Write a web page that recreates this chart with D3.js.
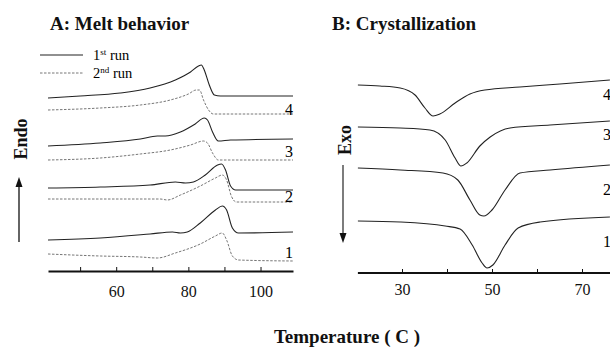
<!DOCTYPE html>
<html>
<head>
<meta charset="utf-8">
<script src="https://cdn.jsdelivr.net/npm/d3@7"></script>
<style>
  body { margin: 0; background: #fff; }
  svg { display: block; font-family: "Liberation Serif", "DejaVu Serif", serif; }
  .curve { fill: none; stroke: #222; stroke-width: 1.1; }
  .curve.second { stroke: #666; stroke-width: 0.9; stroke-dasharray: 2.5,1.5; }
  .axis path { stroke: #111; stroke-width: 1.8; }
  .axis line { stroke: #111; stroke-width: 1; }
  .axis text { font-family: "Liberation Serif", serif; fill: #111; }
  .title { font-weight: bold; fill: #111; }
</style>
</head>
<body>
<div id="chart"></div>
<script>
var svgWidth = 610;
var svgHeight = 349;

// ---- DATA (temperature in C, signal in arbitrary units) ----
// A: melt behavior, 1st run (solid) and 2nd run (dashed), samples 1..4
var meltT_4a = [41.1, 50, 61.1, 69.4, 76.4, 80.6, 82.8, 83.6, 84.4, 85.8, 87.2, 88.9, 109];
var melt_4a  = [18.2, 18.4, 18.7, 19.2, 20.0, 20.8, 21.4, 21.5, 21.0, 19.5, 18.5, 18.4, 18.4];
var meltT_4b = [41.1, 55.6, 66.7, 75, 80, 82.2, 83.1, 84.2, 85.6, 86.9, 109];
var melt_4b  = [17.0, 17.2, 17.5, 18.0, 18.6, 19.0, 19.0, 18.0, 17.0, 16.6, 16.6];

var meltT_3a = [41.1, 55.6, 66.7, 71.4, 73.6, 77.8, 81.9, 84.4, 85.3, 86.7, 88.3, 91.7, 109];
var melt_3a  = [13.4, 13.7, 14.1, 14.4, 14.4, 14.8, 15.6, 16.2, 16.0, 14.8, 13.9, 14.0, 14.1];
var meltT_3b = [41.1, 55.6, 66.7, 75, 80.6, 84.2, 85.3, 86.7, 88.3, 109];
var melt_3b  = [12.0, 12.2, 12.6, 13.0, 13.5, 13.9, 13.7, 12.7, 12.0, 12.0];

var meltT_2a = [41.1, 55.6, 69.4, 76.4, 79.2, 81.4, 84.7, 88.1, 89.2, 90.3, 91.7, 93.1, 109];
var melt_2a  = [9.2, 9.3, 9.5, 9.8, 9.7, 9.8, 10.5, 11.5, 11.6, 11.0, 9.4, 9.0, 9.0];
var meltT_2b = [41.1, 61.1, 72.2, 74.2, 77.8, 83.3, 87.5, 89.4, 90.6, 91.9, 93.3, 109];
var melt_2b  = [8.1, 8.1, 8.1, 8.0, 8.5, 9.4, 10.2, 10.5, 10.0, 8.4, 7.8, 7.8];

var meltT_1a = [41.1, 55.6, 69.4, 75.6, 77.8, 79.7, 83.3, 87.5, 89.4, 90.6, 92.2, 93.9, 109];
var melt_1a  = [4.0, 4.2, 4.6, 4.8, 4.7, 4.8, 5.7, 7.0, 7.4, 7.0, 5.2, 4.7, 4.8];
var meltT_1b = [41.1, 55.6, 66.7, 71.4, 76.4, 83.3, 87.5, 89.4, 90.6, 92.2, 93.9, 109];
var melt_1b  = [2.6, 2.4, 2.3, 2.2, 2.7, 3.6, 4.4, 4.7, 4.0, 2.4, 2.0, 1.9];

// B: crystallization, samples 1..4
var crysT_4 = [20.2, 25.1, 29.6, 32.9, 35.1, 36.9, 38.4, 41.8, 45.1, 48.4, 56.2, 65.1, 76.2];
var crys_4  = [19.5, 19.4, 19.2, 18.5, 17.2, 16.4, 16.6, 17.7, 18.6, 19.0, 19.3, 19.6, 20.0];
var crysT_3 = [20.2, 29.6, 36.2, 39.6, 41.8, 43.1, 44.4, 47.3, 49.6, 54, 62.9, 76.2];
var crys_3  = [15.3, 15.2, 15.0, 14.0, 12.2, 11.4, 11.7, 13.4, 14.3, 15.2, 15.5, 15.9];
var crysT_2 = [20.2, 29.6, 39.1, 42.4, 45.1, 47.3, 48.2, 50, 52.9, 56.2, 62.9, 76.2];
var crys_2  = [11.2, 11.0, 10.7, 10.0, 8.0, 6.5, 6.4, 7.0, 9.0, 10.7, 11.0, 11.5];
var crysT_1 = [20.2, 29.6, 39.6, 42.9, 45.6, 47.8, 48.9, 50.2, 52.9, 55.8, 60.7, 76.2];
var crys_1  = [5.9, 5.8, 5.4, 5.1, 3.5, 1.7, 1.2, 1.5, 3.5, 5.2, 5.8, 6.3];

var curveLabels = ["1", "2", "3", "4"];
var labelLevelA = [2.2, 7.8, 12.3, 16.5];
var labelLevelB = [3.3, 8.5, 14.0, 18.0];

var ticksA = [50, 60, 70, 80, 90, 100];
var tickLabelsA = [60, 80, 100];
var ticksB = [30, 40, 50, 60, 70];
var tickLabelsB = [30, 50, 70];

function zip(xs, ys) {
    return xs.map(function(x, i) { return { t: x, v: ys[i] }; });
}

var svg = d3.select("#chart")
    .append("svg")
    .attr("width", svgWidth)
    .attr("height", svgHeight);

// shared vertical scale (a.u.)
var yScale = d3.scaleLinear().domain([0, 23]).range([280, 50]);

// ---------------- Panel A ----------------
var xA = d3.scaleLinear().domain([41.1, 109]).range([48, 293]);
var lineA = d3.line()
    .x(d => xA(d.t))
    .y(d => yScale(d.v))
    .curve(d3.curveMonotoneX);

var gA = svg.append("g");

var meltSeries = [
    { d: zip(meltT_4a, melt_4a), second: false },
    { d: zip(meltT_4b, melt_4b), second: true },
    { d: zip(meltT_3a, melt_3a), second: false },
    { d: zip(meltT_3b, melt_3b), second: true },
    { d: zip(meltT_2a, melt_2a), second: false },
    { d: zip(meltT_2b, melt_2b), second: true },
    { d: zip(meltT_1a, melt_1a), second: false },
    { d: zip(meltT_1b, melt_1b), second: true }
];

gA.selectAll("path.curve")
    .data(meltSeries)
    .enter()
    .append("path")
    .attr("class", d => d.second ? "curve second" : "curve")
    .attr("d", d => lineA(d.d));

gA.selectAll("text.num")
    .data(curveLabels)
    .enter()
    .append("text")
    .attr("class", "num")
    .attr("x", 289)
    .attr("y", (d, i) => yScale(labelLevelA[i]))
    .attr("text-anchor", "middle")
    .attr("font-size", 16)
    .text(d => d);

// axis ticks + labels
gA.append("g")
    .attr("class", "axis")
    .attr("transform", "translate(0, 271)")
    .call(d3.axisBottom(xA).tickValues(ticksA).tickSize(-4).tickSizeOuter(0).tickFormat(""));
gA.append("g")
    .attr("class", "axis labels")
    .attr("transform", "translate(0, 271)")
    .call(d3.axisBottom(xA).tickValues(tickLabelsA).tickSize(0).tickPadding(15))
    .attr("font-family", "Liberation Serif")
    .attr("font-size", 16)
    .call(g => g.select(".domain").remove());

gA.append("text")
    .attr("class", "title")
    .attr("x", 50)
    .attr("y", 30)
    .attr("font-size", 19)
    .text("A: Melt behavior");

// legend
gA.append("line").attr("class", "curve").attr("x1", 40).attr("x2", 83).attr("y1", 55).attr("y2", 55);
gA.append("line").attr("class", "curve second").attr("x1", 40).attr("x2", 83).attr("y1", 73).attr("y2", 73);
var leg1 = gA.append("text").attr("x", 93).attr("y", 60).attr("font-size", 14.5);
leg1.append("tspan").text("1");
leg1.append("tspan").attr("font-size", 9).attr("dy", -5).text("st");
leg1.append("tspan").attr("dy", 5).text(" run");
var leg2 = gA.append("text").attr("x", 93).attr("y", 78).attr("font-size", 14.5);
leg2.append("tspan").text("2");
leg2.append("tspan").attr("font-size", 9).attr("dy", -5).text("nd");
leg2.append("tspan").attr("dy", 5).text(" run");

// Endo label + arrow
gA.append("text")
    .attr("class", "title")
    .attr("transform", "translate(27, 139) rotate(-90)")
    .attr("text-anchor", "middle")
    .attr("font-size", 18)
    .text("Endo");
gA.append("line").attr("x1", 19).attr("x2", 19).attr("y1", 242).attr("y2", 184)
    .style("stroke", "#111").style("stroke-width", 1.3);
gA.append("path").attr("d", "M19,177 L15.5,187 L22.5,187 Z").style("fill", "#111");

// ---------------- Panel B ----------------
var xB = d3.scaleLinear().domain([30, 70]).range([402, 582]);
var lineB = d3.line()
    .x(d => xB(d.t))
    .y(d => yScale(d.v))
    .curve(d3.curveMonotoneX);

var gB = svg.append("g");

var crysSeries = [zip(crysT_4, crys_4), zip(crysT_3, crys_3), zip(crysT_2, crys_2), zip(crysT_1, crys_1)];

gB.selectAll("path.curve")
    .data(crysSeries)
    .enter()
    .append("path")
    .attr("class", "curve")
    .attr("d", d => lineB(d));

gB.selectAll("text.num")
    .data(curveLabels)
    .enter()
    .append("text")
    .attr("class", "num")
    .attr("x", 607)
    .attr("y", (d, i) => yScale(labelLevelB[i]))
    .attr("text-anchor", "middle")
    .attr("font-size", 16)
    .text(d => d);

gB.append("g")
    .attr("class", "axis")
    .attr("transform", "translate(0, 273)")
    .call(d3.axisBottom(xB).tickValues(ticksB).tickSize(-4).tickSizeOuter(0).tickFormat(""))
    .call(g => g.select(".domain").attr("d", "M" + xB(20.2) + ",0H" + xB(78)));
gB.append("g")
    .attr("class", "axis labels")
    .attr("transform", "translate(0, 273)")
    .call(d3.axisBottom(xB).tickValues(tickLabelsB).tickSize(0).tickPadding(11))
    .attr("font-family", "Liberation Serif")
    .attr("font-size", 16)
    .call(g => g.select(".domain").remove());

gB.append("text")
    .attr("class", "title")
    .attr("x", 332)
    .attr("y", 30)
    .attr("font-size", 19)
    .text("B: Crystallization");

gB.append("text")
    .attr("class", "title")
    .attr("transform", "translate(351, 140) rotate(-90)")
    .attr("text-anchor", "middle")
    .attr("font-size", 18)
    .text("Exo");
gB.append("line").attr("x1", 343).attr("x2", 343).attr("y1", 165).attr("y2", 234)
    .style("stroke", "#111").style("stroke-width", 1.1);
gB.append("path").attr("d", "M343,243 L339.5,233 L346.5,233 Z").style("fill", "#111");

// shared x title
svg.append("text")
    .attr("class", "title")
    .attr("x", 347)
    .attr("y", 343)
    .attr("text-anchor", "middle")
    .attr("font-size", 19)
    .text("Temperature ( C )");
</script>
</body>
</html>
